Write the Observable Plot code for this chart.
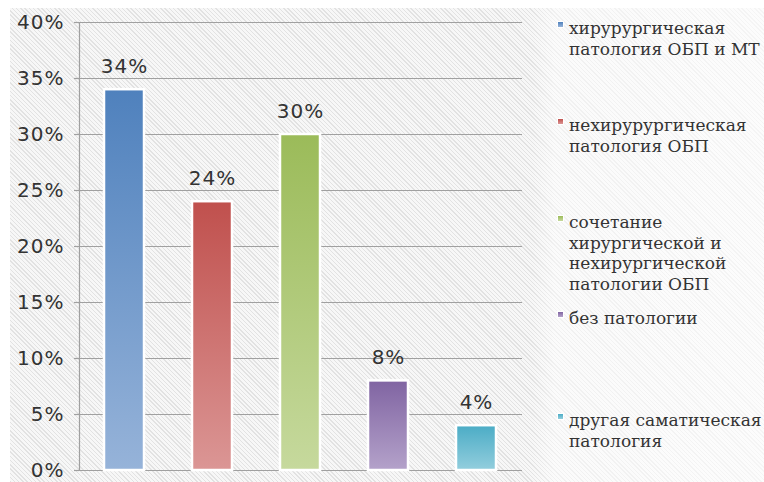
<!DOCTYPE html>
<html><head><meta charset="utf-8">
<script src="https://cdn.jsdelivr.net/npm/d3@7"></script>
<script src="https://cdn.jsdelivr.net/npm/@observablehq/plot@0.6"></script>
<style>
html,body{margin:0;padding:0;background:#fff;}
#wrap{position:relative;width:764px;height:482px;overflow:hidden;}
#bg{position:absolute;left:10px;top:8px;right:0;bottom:0;
 background:
  linear-gradient(to right, rgba(255,255,255,0) 0px, rgba(255,255,255,0) 522px, rgba(255,255,255,0.5) 545px, rgba(255,255,255,0.65) 100%),
  repeating-linear-gradient(45deg, #e2e2e2 0px, #e2e2e2 1px, #f7f7f7 1px, #f7f7f7 3px);}
#chart{position:absolute;left:0;top:0;}
#chart svg text{letter-spacing:1px;}
.item{position:absolute;left:569px;font-family:"DejaVu Serif",serif;font-size:17px;line-height:20.5px;color:#333;white-space:pre;}
.sw{position:absolute;left:-11px;top:4px;width:5px;height:5px;box-shadow:0 0 0 1px #fff;}
</style></head>
<body>
<div id="wrap"><div id="bg"></div><div id="chart"></div></div>
<script>
const categories = [
  "хирурургическая\nпатология ОБП и МТ",
  "нехирурургическая\nпатология ОБП",
  "сочетание\nхирургической и\nнехирургической\nпатологии ОБП",
  "без патологии",
  "другая саматическая\nпатология"
];
const values = [34, 24, 30, 8, 4];
const yTicks = [0, 5, 10, 15, 20, 25, 30, 35, 40];
const colorsTop = ["#4f81bd", "#c0504d", "#9bbb59", "#8064a2", "#4bacc6"];
const colorsBottom = ["#96b3d9", "#db9695", "#c6d99d", "#b4a2ca", "#93cedd"];

const legendTop = [18, 115, 212, 308, 410];

const data = categories.map((c, i) => ({category: c, value: values[i], i}));

const chart = Plot.plot({
  width: 764, height: 482,
  marginTop: 22, marginBottom: 12, marginLeft: 79, marginRight: 242,
  style: {background: "transparent", fontFamily: "DejaVu Sans, sans-serif", fontSize: "20px", color: "#333"},
  x: {domain: categories, paddingInner: 0.54, paddingOuter: 0.27, axis: null},
  y: {domain: [0, 40], axis: null},
  marks: [
    Plot.gridY(yTicks, {stroke: "#a0a0a0", strokeOpacity: 1, strokeWidth: 1.2}),
    Plot.axisY(yTicks, {label: null, tickSize: 5, tickPadding: 10, tickFormat: d => d + "%", stroke: "#a0a0a0", strokeWidth: 1.2, fill: "#333", fontSize: 20}),
    Plot.frame({anchor: "left", stroke: "#a0a0a0", strokeWidth: 1.2}),
    ...data.map(d => Plot.barY([d], {x: "category", y: "value", fill: `url(#grad${d.i})`, stroke: "white", strokeWidth: 2.5})),
    Plot.text(data, {x: "category", y: "value", text: d => d.value + "%", dy: -23, fontSize: 20, fill: "#333"})
  ]
});

const defs = d3.select(chart).insert("defs", ":first-child");
colorsTop.forEach((c, i) => {
  const g = defs.append("linearGradient").attr("id", "grad" + i)
    .attr("x1", 0).attr("y1", 0).attr("x2", 0).attr("y2", 1);
  g.append("stop").attr("offset", "0%").attr("stop-color", c);
  g.append("stop").attr("offset", "100%").attr("stop-color", colorsBottom[i]);
});

document.getElementById("chart").appendChild(chart);

const wrap = document.getElementById("wrap");
categories.forEach((c, i) => {
  const it = document.createElement("div");
  it.className = "item";
  it.style.top = legendTop[i] + "px";
  it.textContent = c;
  const sw = document.createElement("div");
  sw.className = "sw";
  sw.style.background = `linear-gradient(${colorsTop[i]}, ${colorsBottom[i]})`;
  it.appendChild(sw);
  wrap.appendChild(it);
});
</script>
</body></html>
